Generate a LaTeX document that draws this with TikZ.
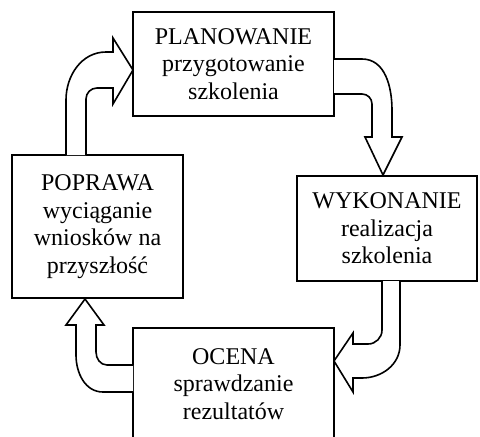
\documentclass[tikz,border=0pt]{standalone}
\usepackage{fontspec}
\setmainfont{Liberation Serif}

\begin{document}
\begin{tikzpicture}[x=1pt, y=-1pt, line width=1.6pt,
                    etap/.style={draw, align=center, inner sep=0pt, font=\fontsize{24}{27.5}\selectfont},
                    strzalka/.style={draw, fill=white, line join=miter}]
                    \useasboundingbox (0,0) rectangle (480,437);
                    \clip (0,0) rectangle (480,437);
                    % cztery etapy cyklu
                    \node [etap, minimum width=201pt, minimum height=104pt] (plan) at (233.5,64) {PLANOWANIE\\przygotowanie\\szkolenia};
                    \node [etap, minimum width=180pt, minimum height=105pt] (wyk) at (387,228.5) {WYKONANIE\\realizacja\\szkolenia};
                    \node [etap, minimum width=201pt, minimum height=112pt] (ocena) at (233.5,384) {OCENA\\sprawdzanie\\rezultatów};
                    \node [etap, minimum width=171pt, minimum height=143pt] (popr) at (97.5,226.5) {POPRAWA\\wyciąganie\\wniosków na\\przyszłość};
                    % strzalki blokowe
                    \path [strzalka] (66,155) -- (66,100) to[out=90, in=180] (106,52) -- (113,52) -- (113,38)
                        -- (133,70) -- (113,104) -- (113,88) -- (97,88) to[out=180, in=90] (86,99) -- (86,155);
                    \path [strzalka] (334,59) -- (362,59) to[out=0, in=90] (392,110) -- (392,137) -- (402,137)
                        -- (383,175) -- (365,137) -- (372,137) -- (372,104) to[out=90, in=0] (362,94) -- (334,94);
                    \path [strzalka] (400,281) -- (400,345) to[out=270, in=0] (362,378) -- (353,378) -- (353,392)
                        -- (334,361) -- (353,333) -- (353,344) -- (368,344) to[out=0, in=270] (382,330) -- (382,281);
                    \path [strzalka] (133,392) -- (103,392) to[out=180, in=270] (76,355) -- (76,325) -- (66,325)
                        -- (85,299) -- (104,325) -- (96,325) -- (96,352) to[out=270, in=180] (107,365) -- (133,365);
                \end{tikzpicture}
\end{document}
